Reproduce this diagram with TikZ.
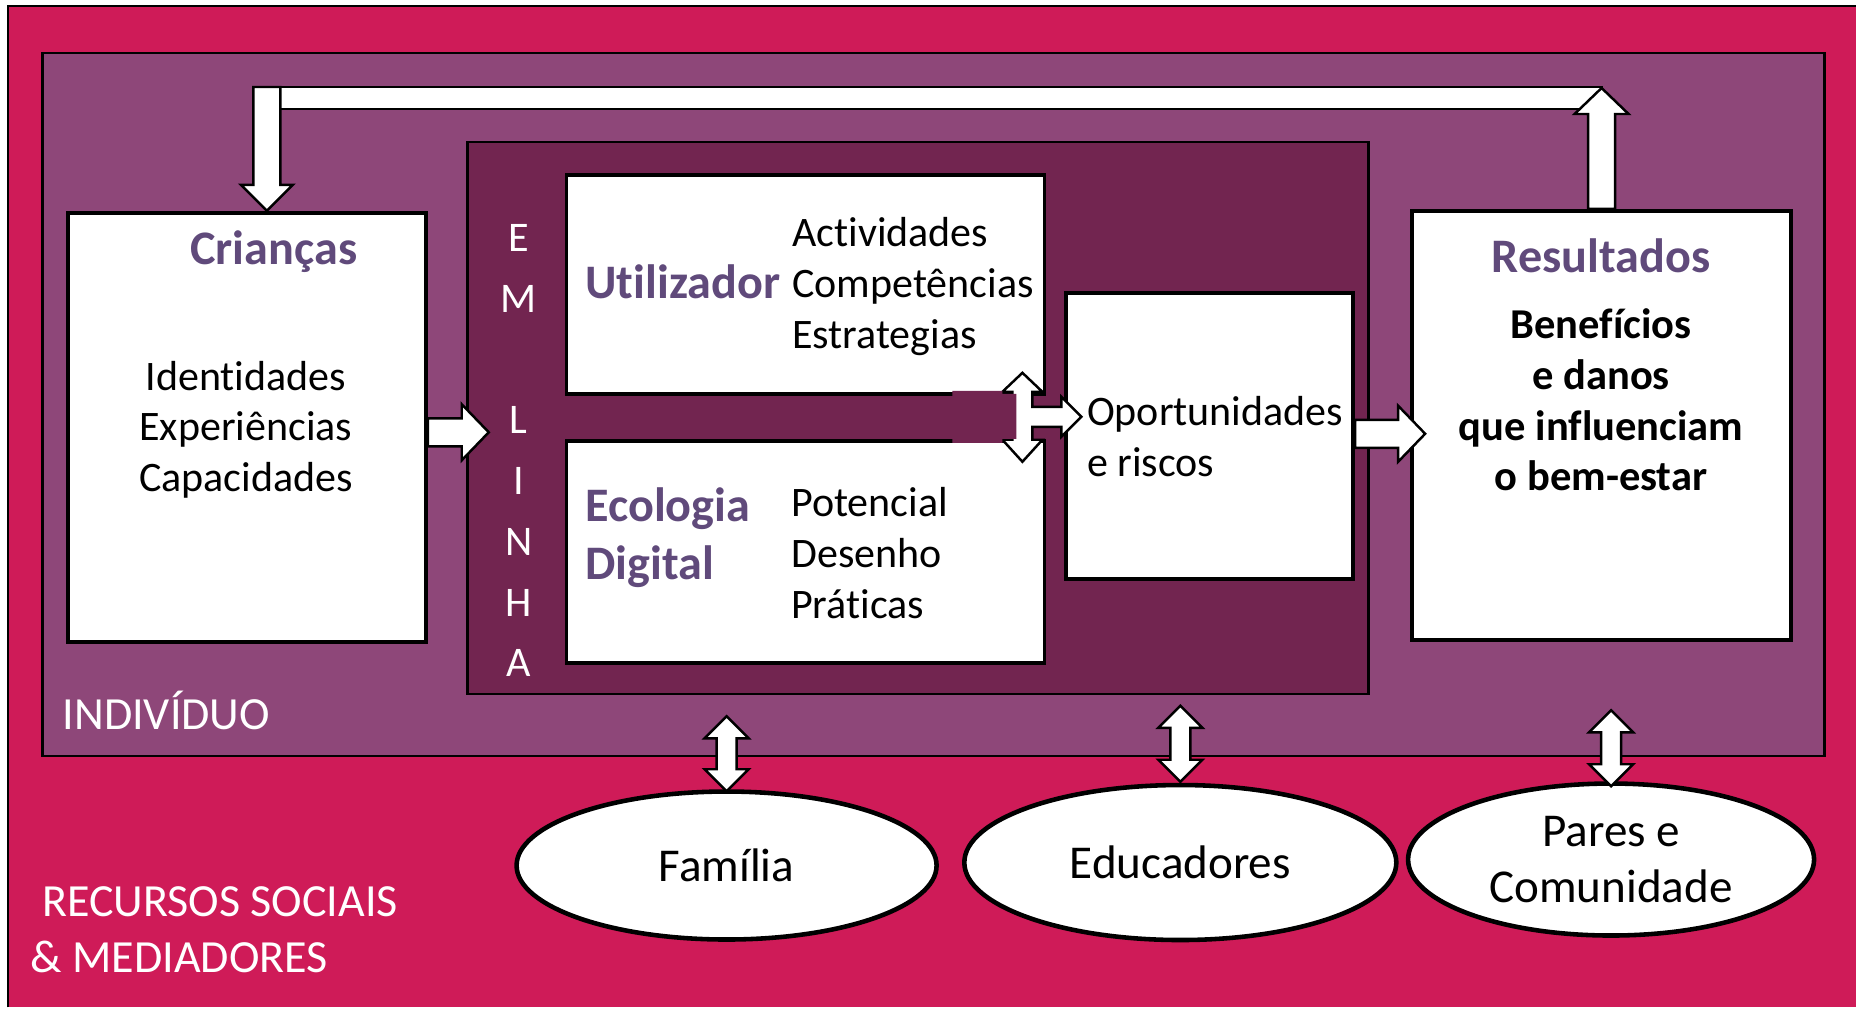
\documentclass[tikz,border=0pt]{standalone}
\usepackage{fontspec}
\setmainfont{Carlito}[Ligatures=NoCommon]
\usepackage{tikz}
\usetikzlibrary{calc,shapes.geometric}

\definecolor{magentabg}{RGB}{207,27,88}
\definecolor{plum}{RGB}{142,71,121}
\definecolor{darkplum}{RGB}{114,37,80}
\definecolor{titleplum}{RGB}{96,74,123}

% block arrow pointing right, from #1 to the tip #2
\newcommand{\flowarrow}[2]{%
  \draw[blockarrow] let \p1=(#1), \p2=(#2) in
    (\x1,\y1+0.14cm) -- (\x2-0.27cm,\y1+0.14cm) -- (\x2-0.27cm,\y1+0.28cm)
    -- (\x2,\y1) -- (\x2-0.27cm,\y1-0.28cm) -- (\x2-0.27cm,\y1-0.14cm)
    -- (\x1,\y1-0.14cm) -- cycle;}
% double headed vertical arrow, top tip #1, bottom tip #2
\newcommand{\linkarrow}[2]{%
  \draw[blockarrow] let \p1=(#1), \p2=(#2) in
    (\x1,\y1) -- (\x1+0.22cm,\y1-0.22cm) -- (\x1+0.10cm,\y1-0.22cm)
    -- (\x1+0.10cm,\y2+0.22cm) -- (\x1+0.22cm,\y2+0.22cm) -- (\x1,\y2)
    -- (\x1-0.22cm,\y2+0.22cm) -- (\x1-0.10cm,\y2+0.22cm)
    -- (\x1-0.10cm,\y1-0.22cm) -- (\x1-0.22cm,\y1-0.22cm) -- cycle;}

\begin{document}
\begin{tikzpicture}[x=0.01cm,y=-0.01cm,
    whitebox/.style={draw,fill=white,line width=1.1pt,inner sep=0pt},
    blockarrow/.style={draw=black,fill=white,line width=0.7pt,line join=miter},
    heading/.style={font=\fontsize{13.7}{16.4}\selectfont\bfseries,text=titleplum,inner sep=0pt},
    body/.style={font=\fontsize{11.95}{14.5}\selectfont,inner sep=0pt},
    layertext/.style={font=\fontsize{13.1}{15.9}\selectfont,text=white,inner sep=0pt,align=left},
    emletter/.style={font=\fontsize{12}{14}\selectfont,text=white,inner sep=0pt},
    mediator/.style={ellipse,draw,fill=white,line width=1.3pt,inner sep=0pt,align=center,
        font=\fontsize{13.4}{15.9}\selectfont}]
    \fill[white] (0,0) rectangle (1857,1008);
    \fill[magentabg] (8,6) rectangle (1857,1008);
    \draw[line width=0.6pt] (8,1008) -- (8,6) -- (1857,6);

    \node[draw,fill=plum,line width=0.6pt,minimum width=17.82cm,minimum height=7.03cm,inner sep=0pt] (person) at (934,404.5) {};
    \node[draw,fill=darkplum,line width=0.6pt,minimum width=9.01cm,minimum height=5.52cm,inner sep=0pt] (online) at (918.5,418) {};

    \node[whitebox,minimum width=3.58cm,minimum height=4.29cm] (kids) at (247,427.5) {};
    \node[whitebox,minimum width=4.78cm,minimum height=2.19cm] (user) at (806,284.5) {};
    \node[whitebox,minimum width=4.78cm,minimum height=2.22cm] (ecology) at (806,552) {};
    \node[whitebox,minimum width=2.87cm,minimum height=2.86cm] (opp) at (1210.5,436) {};
    \node[whitebox,minimum width=3.79cm,minimum height=4.29cm] (results) at (1602.5,425.5) {};

    % feedback loop
    \coordinate (loopin) at ($(kids.north)+(20,0)$);
    \coordinate (loopout) at (results.north);
    \draw[blockarrow] let \p1=(loopin), \p2=(loopout) in (\x1-0.135cm,-0.87cm) rectangle (\x2,-1.09cm);
    \draw[blockarrow] let \p1=(loopin) in
        (\x1-0.135cm,-0.87cm) -- (\x1+0.135cm,-0.87cm) -- (\x1+0.135cm,\y1+0.26cm) -- (\x1+0.26cm,\y1+0.26cm)
        -- (\x1,\y1) -- (\x1-0.26cm,\y1+0.26cm) -- (\x1-0.135cm,\y1+0.26cm) -- cycle;
    \draw[blockarrow] let \p1=(loopout) in
        (\x1-0.135cm,\y1) -- (\x1-0.135cm,-1.14cm) -- (\x1-0.27cm,-1.14cm) -- (\x1,-0.88cm)
        -- (\x1+0.27cm,-1.14cm) -- (\x1+0.135cm,-1.14cm) -- (\x1+0.135cm,\y1) -- cycle;

    \node[heading] (kidstitle) at (274,252) {Crianças};
    \node[body,align=center] (kidstext) at (246,430) {Identidades\\Experiências\\Capacidades};
    \node[heading,anchor=west] (usertitle) at (585,282) {Utilizador};
    \node[body,align=left,anchor=west] (usertext) at (792,287) {Actividades\\Competências\\Estrategias};
    \node[heading,align=left,anchor=west] (ecotitle) at (585,538) {Ecologia\\Digital};
    \node[body,align=left,anchor=west] (ecotext) at (791,553) {Potencial\\Desenho\\Práticas};
    \node[body,align=left,anchor=west] (opptext) at (1087,437) {Oportunidades\\e riscos};
    \node[heading] (restitle) at (1602,256) {Resultados};
    \node[body,align=center,font=\fontsize{12.1}{14.5}\selectfont\bfseries] (restext) at (1602,400)
        {Benefícios\\e danos\\que influenciam\\o bem-estar};

    \foreach \l/\k in {E/0,M/1,L/3,I/4,N/5,H/6,A/7}
        \node[emletter] (em\k) at (519,{238+60.8*\k}) {\l};

    \flowarrow{$(kids.east)+(0,5)$}{$(kids.east)+(61,5)$}
    \flowarrow{$(opp.east)+(0,-2)$}{$(results.west)+(15,-2)$}

    % up, down and right arrow between the two inner boxes
    \coordinate (hub) at (1023,417);
    \begin{scope}[shift={(hub)}]
        \draw[blockarrow] (-10,-25) -- (-20,-25) -- (0,-44) -- (20,-25) -- (10,-25) -- (10,-10)
            -- (39,-10) -- (39,-20) -- (59,0) -- (39,20) -- (39,10) -- (10,10) -- (10,23)
            -- (20,23) -- (0,45) -- (-20,23) -- (-10,23) -- cycle;
        \fill[darkplum] (-70,-26) -- (-20,-26) -- (-20,-23) -- (-6,-23) -- (-6,22) -- (-20,22)
            -- (-20,26) -- (-70,26) -- cycle;
    \end{scope}

    \node[layertext,anchor=west] (persontext) at (62,711) {INDIVÍDUO};
    \node[layertext,anchor=west] (socialtext) at (30,930) {\hspace*{0.25em}RECURSOS SOCIAIS\\\& MEDIADORES};

    \node[mediator,minimum width=4.2cm,minimum height=1.48cm] (family) at (727,866) {Família};
    \node[mediator,minimum width=4.32cm,minimum height=1.55cm] (educators) at (1181,863) {Educadores};
    \node[mediator,minimum width=4.06cm,minimum height=1.52cm] (peers) at (1612,860) {Pares e\\Comunidade};

    \linkarrow{$(family.north)+(0,-73)$}{$(family.north)+(0,2)$}
    \linkarrow{$(educators.north)+(0,-77)$}{$(educators.north)+(0,-1)$}
    \linkarrow{$(peers.north)+(0,-71)$}{$(peers.north)+(0,5)$}
\end{tikzpicture}
\end{document}
